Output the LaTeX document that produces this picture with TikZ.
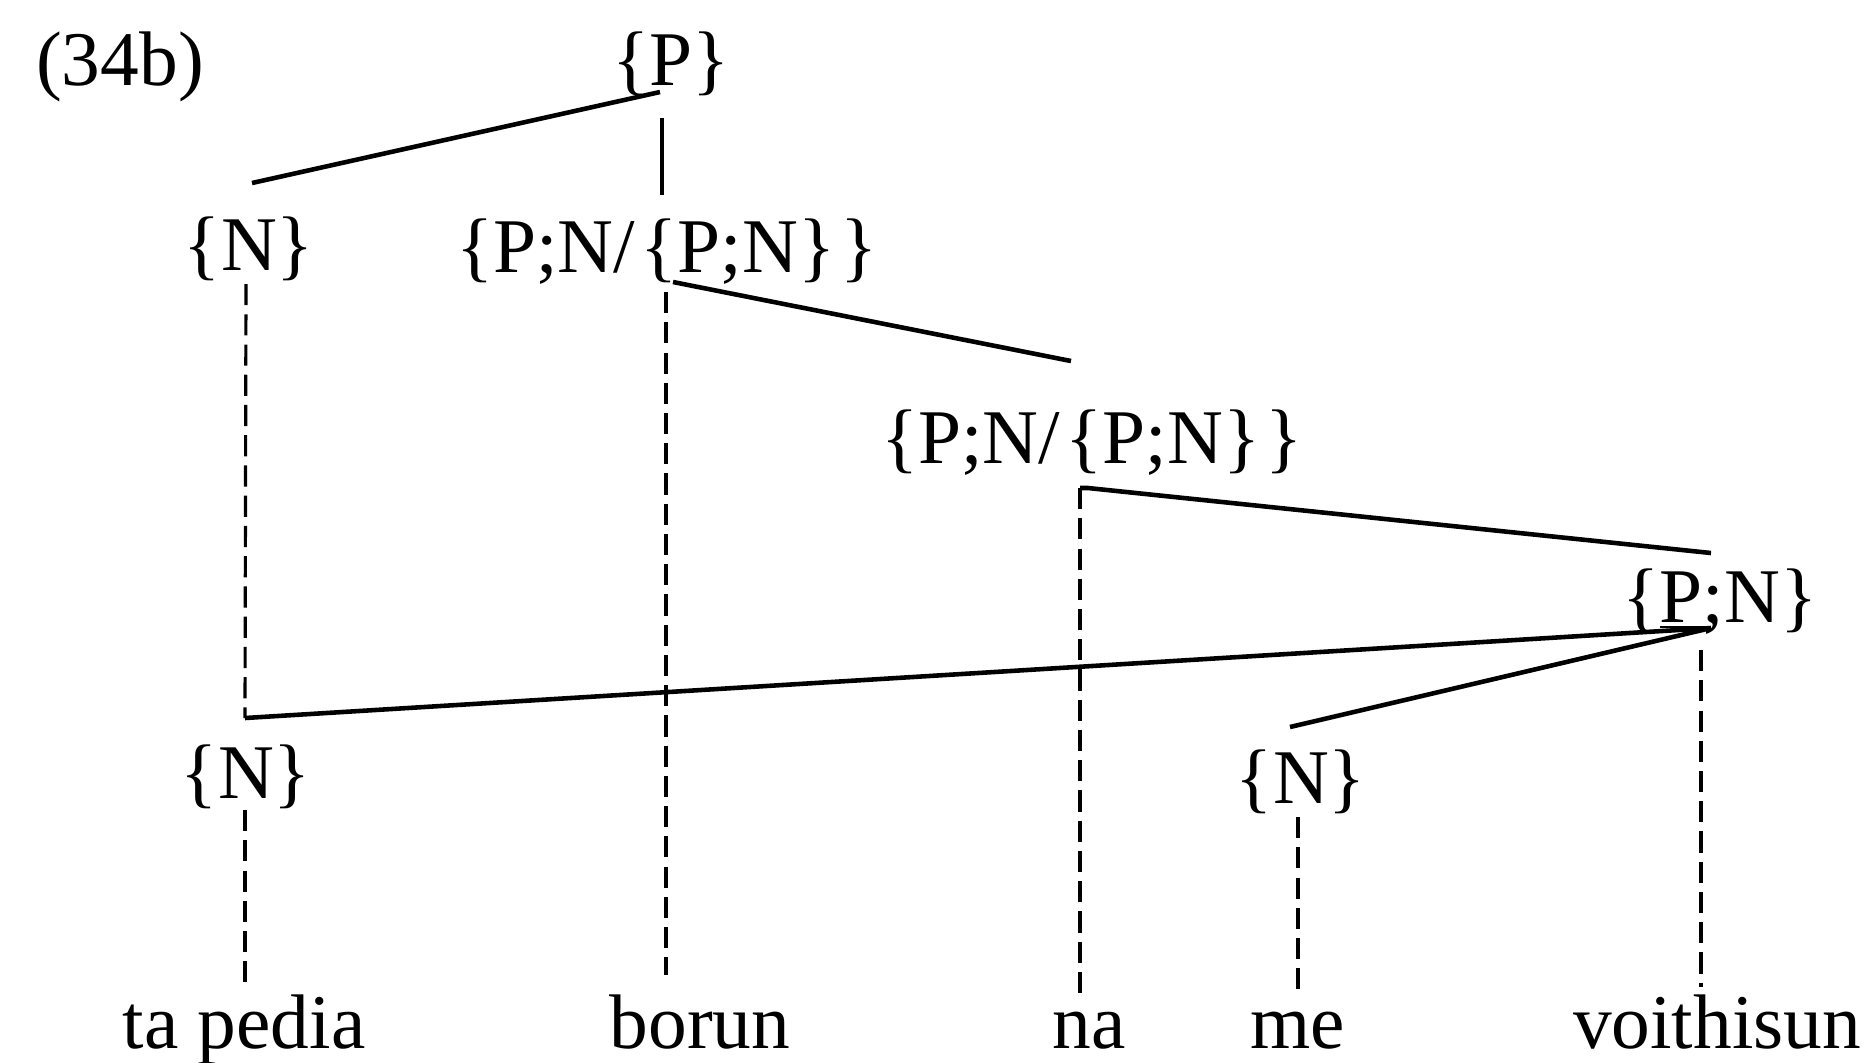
\documentclass[tikz,border=0pt]{standalone}
\usepackage{fontspec}
\setmainfont{Liberation Serif}

\begin{document}
\begin{tikzpicture}[
  x=0.01cm, y=-0.01cm,
  font=\fontsize{22}{26}\selectfont,
  cat/.style={inner sep=0pt, anchor=base},
  word/.style={inner sep=0pt, anchor=base},
  arc/.style={line width=1.3pt},
  assoc/.style={line width=0.9pt, dash pattern=on 6pt off 2.6pt},
]
\useasboundingbox (0,0) rectangle (1865,1062);

% ---------------------------------------------------------------
% category labels
% ---------------------------------------------------------------
\node[cat] (ex)  at (120,85)   {(34b)};
\node[cat] (P)   at (671,85)   {\{P\}};
\node[cat] (N1)  at (249,270)  {\{N\}};
\node[cat] (PN1) at (667,272)  {\{P;N/\kern1.5pt\{P;N\}\kern1.5pt\}};
\node[cat] (PN2) at (1092,463) {\{P;N/\kern1.5pt\{P;N\}\kern1.5pt\}};
\node[cat] (PNv) at (1720,622) {\{\underline{P};N\}};
\node[cat] (N3)  at (246,798)  {\{N\}};
\node[cat] (N4)  at (1301,803) {\{N\}};

% ---------------------------------------------------------------
% words
% ---------------------------------------------------------------
\node[word] (tapedia) at (244,1048)  {ta pedia};
\node[word] (borun)   at (700,1048)  {borun};
\node[word] (na)      at (1089,1048) {na};
\node[word] (me)      at (1298,1048) {me};
\node[word] (voith)   at (1717,1048) {voithisun};

% attachment points of the arcs
\coordinate (pL)   at (660,92);
\coordinate (pB)   at (662,118);
\coordinate (n1T)  at (252,183);
\coordinate (n1B)  at (246,284);
\coordinate (pn1T) at (662,195);
\coordinate (pn1R) at (673,282);
\coordinate (pn1B) at (666,292);
\coordinate (pn2T) at (1071,361);
\coordinate (pn2L) at (1080,488);
\coordinate (pvT)  at (1711,553);
\coordinate (pvB)  at (1711,628);
\coordinate (pvD)  at (1701,650);
\coordinate (n3T)  at (245,718);
\coordinate (n3B)  at (245,810);
\coordinate (n4T)  at (1290,727);
\coordinate (n4B)  at (1298,817);

% lower ends of the association lines
\coordinate (w1) at (245,988);
\coordinate (w2) at (666,975);
\coordinate (w3) at (1080,993);
\coordinate (w4) at (1298,995);
\coordinate (w5) at (1701,987);

% ---------------------------------------------------------------
% dependency arcs
% ---------------------------------------------------------------
\draw[arc] (pL) -- (n1T);
\draw[arc] (pB) -- (pn1T);
\draw[arc] (pn1R) -- (pn2T);
\draw[arc] (pn2L) -- ++(8,0) -- (pvT);
\draw[arc] (pvB) -- (n3T);
\draw[arc] (pvB) -- (n4T);

% ---------------------------------------------------------------
% association lines
% ---------------------------------------------------------------
\draw[assoc] (n1B) -- (n3T);
\draw[assoc] (n3B) -- (w1);
\draw[assoc] (pn1B) -- (w2);
\draw[assoc] (pn2L) -- (w3);
\draw[assoc] (n4B) -- (w4);
\draw[assoc] (pvD) -- (w5);

\end{tikzpicture}
\end{document}
